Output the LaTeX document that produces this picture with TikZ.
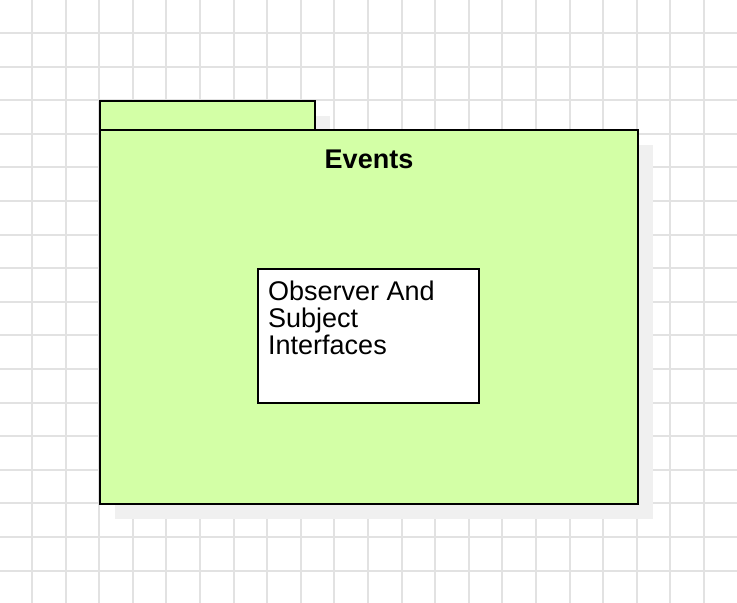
\documentclass[tikz,border=0pt]{standalone}
\usepackage{fontspec}
\setmainfont{Liberation Sans}
\usetikzlibrary{shadows}
\definecolor{pkggreen}{RGB}{211,255,166}
\definecolor{gridgray}{RGB}{226,226,226}
\definecolor{shadowgray}{RGB}{240,240,240}
\tikzset{
  gridline/.style={draw=gridgray, line width=2pt},
  pkgpart/.style={draw=black, line width=2pt, fill=pkggreen, inner sep=0pt,
    anchor=north west,
    general shadow={fill=shadowgray, shadow xshift=15pt, shadow yshift=-15pt}},
  classbox/.style={draw=black, line width=2pt, fill=white, inner sep=0pt,
    anchor=north west},
  bigtext/.style={font=\fontsize{27}{27}\selectfont},
}
\begin{document}
\begin{tikzpicture}[x=1pt, y=-1pt]
  \useasboundingbox (0,0) rectangle (737,603);
  % grid
  \foreach \k in {0,...,20}
    \draw[gridline] (32+33.6*\k,0) -- (32+33.6*\k,603);
  \foreach \k in {0,...,16}
    \draw[gridline] (0,33+33.6*\k) -- (737,33+33.6*\k);
  % package
  \node (tab) [pkgpart, minimum width=215pt, minimum height=29pt] at (98.5,99.5) {};
  \node (body) [pkgpart, minimum width=538pt, minimum height=374pt] at (98.5,128.5) {};
  \node (title) [bigtext, anchor=base, inner sep=0pt] at (369,168) {\bfseries Events};
  % interfaces
  \node (iface) [classbox, minimum width=221pt, minimum height=134pt] at (256.5,267.5) {};
  \node (ifacetext) [bigtext, anchor=north west, align=left, inner sep=0pt]
    at (268,280.5) {Observer And\\Subject\\Interfaces};
\end{tikzpicture}
\end{document}
